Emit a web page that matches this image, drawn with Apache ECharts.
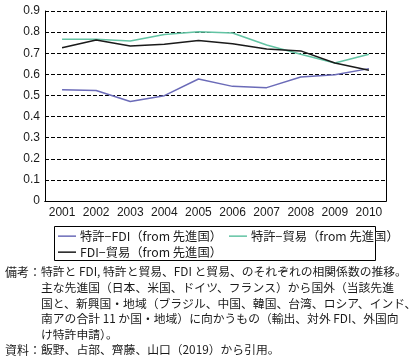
<!DOCTYPE html>
<html><head><meta charset="utf-8">
<script src="https://cdn.jsdelivr.net/npm/echarts@6/dist/echarts.min.js"></script>
<style>html,body{margin:0;padding:0;background:#fff}#c{width:411px;height:362px}</style>
</head><body><div id="c"></div>
<script>
const years = ['2001','2002','2003','2004','2005','2006','2007','2008','2009','2010'];
const patentFDI   = [0.527,0.523,0.471,0.499,0.578,0.543,0.537,0.587,0.598,0.627];
const patentTrade = [0.766,0.766,0.758,0.789,0.802,0.796,0.739,0.695,0.654,0.695];
const fdiTrade    = [0.726,0.763,0.734,0.742,0.760,0.745,0.720,0.711,0.654,0.619];
const seriesNames = ['特許−FDI（from 先進国）','特許−貿易（from 先進国）','FDI−貿易（from 先進国）'];
const yTicks = [0,0.1,0.2,0.3,0.4,0.5,0.6,0.7,0.8,0.9];
const noteLines = [
  ['備考：','特許と FDI, 特許と貿易、FDI と貿易、のそれぞれの相関係数の推移。'],
  ['','主な先進国（日本、米国、ドイツ、フランス）から国外（当該先進'],
  ['','国と、新興国・地域（ブラジル、中国、韓国、台湾、ロシア、インド、'],
  ['','南アの合計 11 か国・地域）に向かうもの（輸出、対外 FDI、外国向'],
  ['','け特許申請）。'],
  ['資料：','飯野、占部、齊藤、山口（2019）から引用。']
];
const colors = ['#6b6bb8','#62c3a3','#1a1a1a'];
const font = "'Noto Sans CJK JP','Noto Sans',sans-serif";
const numFont = "'Liberation Sans', Arial, sans-serif";

const chart = echarts.init(document.getElementById('c'), null, {renderer:'canvas'});
const graphics = [{
  type:'rect', shape:{x:54.5,y:226.5,width:321,height:34},
  style:{fill:'none',stroke:'#000',lineWidth:1}, silent:true
}];
const rowY = [272,288,304,319,335,350];
noteLines.forEach((ln,i)=>{
  if(ln[0]) graphics.push({type:'text',x:5,y:rowY[i],style:{text:ln[0],fontSize:12,fontFamily:font,fill:'#1a1a1a',textVerticalAlign:'middle'}});
  graphics.push({type:'text',x:41,y:rowY[i],style:{text:ln[1],fontSize:11.8,fontFamily:font,fill:'#1a1a1a',textVerticalAlign:'middle'}});
});

chart.setOption({
  animation:false,
  textStyle:{fontFamily:font},
  grid:{left:45,right:25,top:11,bottom:161,containLabel:false},
  legend:[
    {data:[seriesNames[0],seriesNames[1]],left:58,top:230,padding:0,itemGap:7,itemWidth:18,itemHeight:1.5,icon:'rect',
     textStyle:{fontSize:12.3,color:'#1a1a1a',fontFamily:font,padding:[0,0,0,-1]}},
    {data:[seriesNames[2]],left:58,top:246,padding:0,itemGap:7,itemWidth:18,itemHeight:1.5,icon:'rect',
     textStyle:{fontSize:12.3,color:'#1a1a1a',fontFamily:font,padding:[0,0,0,-1]}}
  ],
  xAxis:[
    {type:'category',data:years,boundaryGap:true,
     axisLine:{lineStyle:{color:'#000',width:1}},
     axisTick:{inside:true,length:5,interval:0,lineStyle:{color:'#000'}},
     axisLabel:{interval:0,fontSize:12,color:'#1a1a1a',margin:6,fontFamily:numFont}},
    {type:'category',data:years,position:'top',
     axisLine:{lineStyle:{color:'#000',width:1}},axisTick:{show:false},axisLabel:{show:false}}
  ],
  yAxis:[
    {type:'value',min:0,max:0.9,interval:0.1,
     axisLine:{show:true,lineStyle:{color:'#000',width:1}},axisTick:{show:false},
     axisLabel:{fontSize:12,color:'#1a1a1a',margin:5,fontFamily:numFont,
       formatter:v=>{const t=yTicks.find(x=>Math.abs(x-v)<1e-9);return t===0?'0':String(t);}},
     splitLine:{show:true,lineStyle:{color:'#000',width:1,type:[4,2]}}},
    {type:'value',min:0,max:0.9,interval:0.1,position:'right',
     axisLine:{show:true,lineStyle:{color:'#000',width:1}},axisTick:{show:false},axisLabel:{show:false},splitLine:{show:false}}
  ],
  series:[
    {name:seriesNames[0],type:'line',data:patentFDI,symbol:'none',lineStyle:{color:colors[0],width:1.5},itemStyle:{color:colors[0]}},
    {name:seriesNames[1],type:'line',data:patentTrade,symbol:'none',lineStyle:{color:colors[1],width:1.5},itemStyle:{color:colors[1]}},
    {name:seriesNames[2],type:'line',data:fdiTrade,symbol:'none',lineStyle:{color:colors[2],width:1.5},itemStyle:{color:colors[2]}}
  ],
  graphic:graphics
});
</script></body></html>
